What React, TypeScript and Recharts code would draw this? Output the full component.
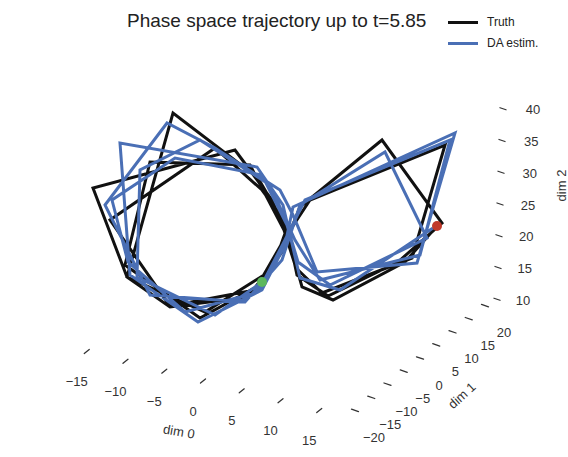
import React from 'react';
import { ScatterChart, Scatter, XAxis, YAxis } from 'recharts';

const W = 568;
const H = 457;

// Projected (view-plane) trajectory of the Lorenz system, truth and DA estimate
const truthPath: [number, number][] = [
  [437, 226], [405, 262], [333, 300], [302, 287], [289, 240], [272, 200], [235, 150],
  [93, 188], [127, 277], [170, 307], [248, 297], [282, 252], [300, 207], [382, 140],
  [442, 223], [398, 262], [328, 296], [297, 275], [287, 228], [258, 178], [173, 113],
  [127, 277], [205, 312], [272, 270], [288, 225], [262, 190], [215, 148], [110, 220],
  [170, 306], [255, 290], [285, 238], [310, 200], [445, 145], [412, 258], [322, 293],
  [296, 268], [284, 230], [250, 165], [150, 162], [125, 265], [200, 318], [262, 284],
];
const estimPath: [number, number][] = [
  [433, 228], [340, 290], [300, 278], [290, 235], [283, 205], [257, 167], [120, 143],
  [130, 275], [198, 322], [262, 290], [285, 245], [293, 207], [455, 133], [417, 263],
  [317, 272], [293, 215], [280, 190], [215, 148], [167, 123], [105, 205], [150, 295],
  [245, 302], [282, 260], [300, 205], [385, 152], [427, 238], [330, 285], [298, 262],
  [287, 225], [262, 175], [175, 158], [112, 200], [128, 262], [185, 312], [258, 292],
  [285, 240], [305, 200], [450, 140], [420, 255], [320, 280], [295, 240], [270, 185],
  [200, 140], [140, 170], [137, 277], [215, 315], [262, 282],
];
const startPoint: [number, number][] = [[437, 226]];
const endPoint: [number, number][] = [[262, 282]];

const dim0Ticks = [-15, -10, -5, 0, 5, 10, 15];
const dim1Ticks = [-20, -15, -10, -5, 0, 5, 10, 15, 20];
const dim2Ticks = [10, 15, 20, 25, 30, 35, 40];

const title = 'Phase space trajectory up to t=5.85';
const seriesNames = ['Truth', 'DA estim.'];
const colors = ['#111111', '#4a6fb5'];

// 3D axis -> view-plane projection of each axis line
const proj0 = (v: number) => ({ x: 203 + v * 7.75, y: 381 + v * 1.97 });
const proj1 = (v: number) => ({ x: 420 + v * 3.25, y: 358 - v * 2.62 });
const proj2 = (v: number) => ({ x: 500 + (v - 25) * 0.2, y: 204 - (v - 25) * 6.35 });

const toXY = (arr: [number, number][]) => arr.map(([x, y]) => ({ x, y }));

const tickMarks = [
  ...dim0Ticks.map((v) => ({ ...proj0(v), dx: 2.5, dy: -2 })),
  ...dim1Ticks.map((v) => ({ ...proj1(v), dx: 3.5, dy: 1.2 })),
  ...dim2Ticks.map((v) => ({ ...proj2(v), dx: 3, dy: 1 })),
];
const tickLabels = [
  ...dim0Ticks.map((v) => ({ x: proj0(v).x - 10, y: proj0(v).y + 30, label: v < 0 ? `\u2212${-v}` : `${v}` })),
  ...dim1Ticks.map((v) => ({ x: proj1(v).x + 19, y: proj1(v).y + 27, label: v < 0 ? `\u2212${-v}` : `${v}` })),
  ...dim2Ticks.map((v) => ({ x: proj2(v).x + 28 + (v - 25) * 0.13, y: proj2(v).y + 1, label: `${v}` })),
];

const font = '"Liberation Sans", Arial, Helvetica, sans-serif';

const Empty = () => <g />;

const TickShape = (props: any) => {
  const { cx, cy, payload } = props;
  return (
    <line x1={cx - payload.dx} y1={cy - payload.dy} x2={cx + payload.dx} y2={cy + payload.dy}
      stroke="#333" strokeWidth={1.3} strokeLinecap="round" />
  );
};
const LabelShape = (props: any) => {
  const { cx, cy, payload } = props;
  return (
    <text x={cx} y={cy} textAnchor="middle" dominantBaseline="central" fontFamily={font}
      fontSize={13} fill="#333">{payload.label}</text>
  );
};
const Dot = (color: string) => (props: any) => (
  <circle cx={props.cx} cy={props.cy} r={5} fill={color} />
);

export default function App() {
  return (
    <div style={{ position: 'absolute', left: 0, top: 0, width: W, height: H, background: '#fff', fontFamily: font }}>
      <ScatterChart width={W} height={H} margin={{ top: 0, right: 0, bottom: 0, left: 0 }}>
        <XAxis type="number" dataKey="x" domain={[0, W]} hide allowDataOverflow />
        <YAxis type="number" dataKey="y" domain={[0, H]} reversed hide allowDataOverflow />
        <Scatter data={tickMarks} shape={TickShape} isAnimationActive={false} />
        <Scatter data={tickLabels} shape={LabelShape} isAnimationActive={false} />
        <Scatter data={toXY(truthPath)} line={{ stroke: colors[0], strokeWidth: 3, strokeLinejoin: 'miter' }}
          lineType="joint" shape={Empty} isAnimationActive={false} />
        <Scatter data={toXY(estimPath)} line={{ stroke: colors[1], strokeWidth: 3, strokeLinejoin: 'miter' }}
          lineType="joint" shape={Empty} isAnimationActive={false} />
        <Scatter data={toXY(startPoint)} shape={Dot('#c0392b')} isAnimationActive={false} />
        <Scatter data={toXY(endPoint)} shape={Dot('#5cb85c')} isAnimationActive={false} />
      </ScatterChart>
      <div style={{ position: 'absolute', left: 127, top: 10, fontSize: 19, lineHeight: 1.15, color: '#222', whiteSpace: 'nowrap' }}>{title}</div>
      {seriesNames.map((name, i) => (
        <div key={name} style={{ position: 'absolute', left: 448, top: 14 + i * 21, height: 16, display: 'flex', alignItems: 'center' }}>
          <div style={{ width: 30, height: 3, background: colors[i] }} />
          <span style={{ marginLeft: 9, fontSize: 12, color: '#222' }}>{name}</span>
        </div>
      ))}
      <div style={{ position: 'absolute', left: 163, top: 424, fontSize: 13, color: '#333', transform: 'rotate(10deg)', whiteSpace: 'nowrap' }}>dim 0</div>
      <div style={{ position: 'absolute', left: 446, top: 388, fontSize: 13, color: '#333', transform: 'rotate(-42deg)', whiteSpace: 'nowrap' }}>dim 1</div>
      <div style={{ position: 'absolute', left: 546, top: 178, fontSize: 13, color: '#333', transform: 'rotate(-90deg)', whiteSpace: 'nowrap' }}>dim 2</div>
    </div>
  );
}
